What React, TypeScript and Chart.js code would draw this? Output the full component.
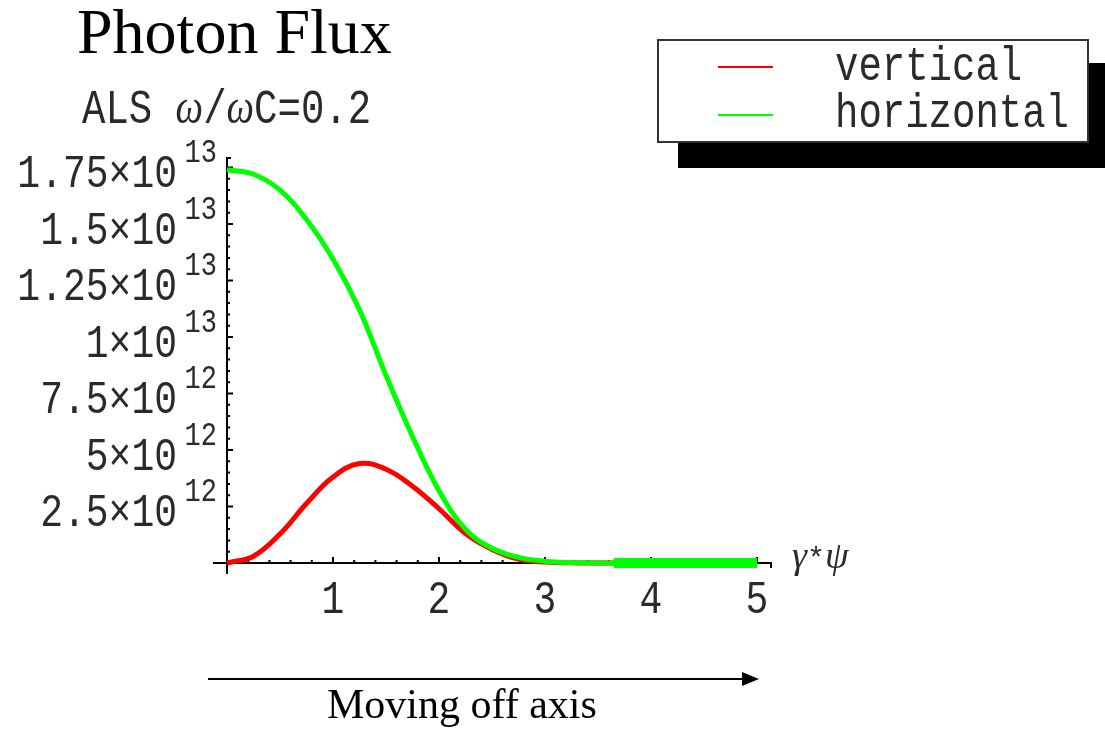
import React, { useEffect, useRef } from "react";
import { Chart, registerables } from "chart.js";

Chart.register(...registerables);

// ---------- data ----------
const psiValues = [0, 0.25, 0.5, 0.75, 1, 1.25, 1.5, 1.75, 2, 2.25, 2.5, 2.75, 3, 3.25, 3.5, 3.75, 4, 4.25, 4.5, 4.75, 5];
const verticalFlux = [0, 3.0e11, 1.28e12, 2.63e12, 3.8e12, 4.4e12, 4.15e12, 3.4e12, 2.4e12, 1.3e12, 6e11, 1.7e11, 4e10, 1e10, 0, 0, 0, 0, 0, 0, 0];
const horizontalFlux = [1.74e13, 1.72e13, 1.65e13, 1.52e13, 1.345e13, 1.12e13, 8.3e12, 5.6e12, 3.2e12, 1.5e12, 6.5e11, 2.5e11, 8e10, 2e10, 5e9, 0, 0, 0, 0, 0, 0];
const tailPsi = [3.65, 5];
const tailFlux = [0, 0];

const seriesNames = ["vertical", "horizontal"];
const seriesColors = ["#ff0000", "#00ff00"];

const xTickValues = [1, 2, 3, 4, 5];
const xTickLabels = ["1", "2", "3", "4", "5"];
const yTickValues = [2.5e12, 5e12, 7.5e12, 1e13, 1.25e13, 1.5e13, 1.75e13];
const yTickMantissas = ["2.5×10", "5×10", "7.5×10", "1×10", "1.25×10", "1.5×10", "1.75×10"];
const yTickExponents = ["12", "12", "12", "13", "13", "13", "13"];

const X_MAX = 5.132;
const Y_MAX = 1.792e13;

const MONO = "'Liberation Mono', 'Courier New', monospace";
const SERIF = "'Liberation Serif', 'Times New Roman', serif";
const SY = 1.22;
const TEXT_COLOR = "#2a2a2a";

function scaledText(ctx: CanvasRenderingContext2D, text: string, x: number, y: number, font: string, align: CanvasTextAlign) {
  ctx.save();
  ctx.translate(x, y);
  ctx.scale(1, SY);
  ctx.font = font;
  ctx.textAlign = align;
  ctx.textBaseline = "alphabetic";
  ctx.fillStyle = TEXT_COLOR;
  ctx.fillText(text, 0, 0);
  ctx.restore();
}

const axesPlugin = {
  id: "mmaAxes",
  beforeDatasetsDraw(chart: any) {
    const ctx: CanvasRenderingContext2D = chart.ctx;
    const xs = chart.scales.x;
    const ys = chart.scales.y;
    const x0 = xs.getPixelForValue(0);
    const y0 = ys.getPixelForValue(0);
    const xEnd = xs.getPixelForValue(X_MAX);
    const yTop = ys.getPixelForValue(Y_MAX);
    ctx.save();
    ctx.strokeStyle = "#000";
    ctx.lineWidth = 2;
    ctx.beginPath();
    ctx.moveTo(x0 - 14, y0);
    ctx.lineTo(xEnd, y0);
    ctx.lineTo(xEnd, y0 + 5);
    ctx.moveTo(x0, y0 + 11);
    ctx.lineTo(x0, yTop);
    ctx.lineTo(x0 + 4, yTop);
    ctx.stroke();

    // x ticks (major + minor, pointing up)
    ctx.beginPath();
    for (let i = 1; i * 0.2 < X_MAX; i++) {
      const v = i * 0.2;
      const px = xs.getPixelForValue(v);
      const major = i % 5 === 0;
      ctx.moveTo(px, y0);
      ctx.lineTo(px, y0 - (major ? 6 : 3));
    }
    // y ticks (pointing right)
    for (let i = 1; i * 5e11 < Y_MAX; i++) {
      const py = ys.getPixelForValue(i * 5e11);
      const major = i % 5 === 0;
      ctx.moveTo(x0, py);
      ctx.lineTo(x0 + (major ? 6 : 3), py);
    }
    ctx.stroke();

    // x tick labels
    xTickValues.forEach((v, i) => {
      const px = xs.getPixelForValue(v);
      scaledText(ctx, xTickLabels[i], px, y0 + 50, `38px ${MONO}`, "center");
    });
    // y tick labels
    yTickValues.forEach((v, i) => {
      const py = ys.getPixelForValue(v);
      scaledText(ctx, yTickMantissas[i], x0 - 50, py + 20, `38px ${MONO}`, "right");
      scaledText(ctx, yTickExponents[i], x0 - 10, py - 5, `27px ${MONO}`, "right");
    });
    ctx.restore();
  },
};

export default function App() {
  const canvasRef = useRef<HTMLCanvasElement | null>(null);

  useEffect(() => {
    const canvas = canvasRef.current;
    if (!canvas) return;
    const toPts = (xsArr: number[], ysArr: number[]) => xsArr.map((x, i) => ({ x, y: ysArr[i] }));
    const chart = new Chart(canvas, {
      type: "line",
      data: {
        datasets: [
          {
            label: seriesNames[0],
            data: toPts(psiValues, verticalFlux),
            borderColor: seriesColors[0],
            borderWidth: 5,
            pointRadius: 0,
            tension: 0.4,
            clip: false as any,
            order: 2,
          },
          {
            label: seriesNames[1],
            data: toPts(psiValues, horizontalFlux),
            borderColor: seriesColors[1],
            borderWidth: 5,
            pointRadius: 0,
            tension: 0.4,
            clip: false as any,
            order: 1,
          },
          {
            label: "horizontal tail",
            data: toPts(tailPsi, tailFlux),
            borderColor: seriesColors[1],
            borderWidth: 10,
            pointRadius: 0,
            clip: false as any,
            order: 0,
          },
        ],
      },
      options: {
        responsive: false,
        animation: false,
        devicePixelRatio: 1,
        layout: { padding: { left: 227, right: 1105 - 771, top: 158, bottom: 730 - 563 } },
        plugins: { legend: { display: false }, tooltip: { enabled: false }, title: { display: false } },
        events: [],
        scales: {
          x: { type: "linear", min: 0, max: X_MAX, display: false },
          y: { type: "linear", min: 0, max: Y_MAX, display: false },
        },
      },
      plugins: [axesPlugin],
    } as any);
    return () => chart.destroy();
  }, []);

  return (
    <div style={{ position: "absolute", left: 0, top: 0, width: 1105, height: 730, background: "#fff", overflow: "hidden" }}>
      <canvas ref={canvasRef} width={1105} height={730} style={{ position: "absolute", left: 0, top: 0 }} />
      <svg width={1105} height={730} style={{ position: "absolute", left: 0, top: 0, pointerEvents: "none" }}>
        <text x={77} y={53} fontFamily={SERIF} fontSize={64} fill="#000">Photon Flux</text>
        <text transform={`translate(82,123) scale(1,${SY})`} fontFamily={MONO} fontSize={39} fill={TEXT_COLOR}>
          ALS <tspan fontFamily={SERIF} fontStyle="italic">ω</tspan>/<tspan fontFamily={SERIF} fontStyle="italic">ω</tspan>C=0.2
        </text>

        <rect x={678} y={63} width={440} height={105} fill="#000" />
        <rect x={658} y={40} width={430} height={102} fill="#fff" stroke="#333" strokeWidth={2} />
        {seriesNames.map((name, i) => (
          <g key={name}>
            <line x1={718} x2={773} y1={67 + i * 48} y2={67 + i * 48} stroke={seriesColors[i]} strokeWidth={2} />
            <text transform={`translate(835,${80 + i * 47}) scale(1,${SY})`} fontFamily={MONO} fontSize={39} fill={TEXT_COLOR}>{name}</text>
          </g>
        ))}

        <text x={792} y={568} fontFamily={SERIF} fontSize={38} fill={TEXT_COLOR}>
          <tspan fontStyle="italic">γ</tspan><tspan fontFamily={MONO} fontSize={30}>*</tspan><tspan fontStyle="italic">ψ</tspan>
        </text>

        <line x1={208} y1={679} x2={745} y2={679} stroke="#000" strokeWidth={2} />
        <polygon points="742,672 759,679 742,686" fill="#000" />
        <text x={327} y={718} fontFamily={SERIF} fontSize={42} fill="#000">Moving off axis</text>
      </svg>
    </div>
  );
}
